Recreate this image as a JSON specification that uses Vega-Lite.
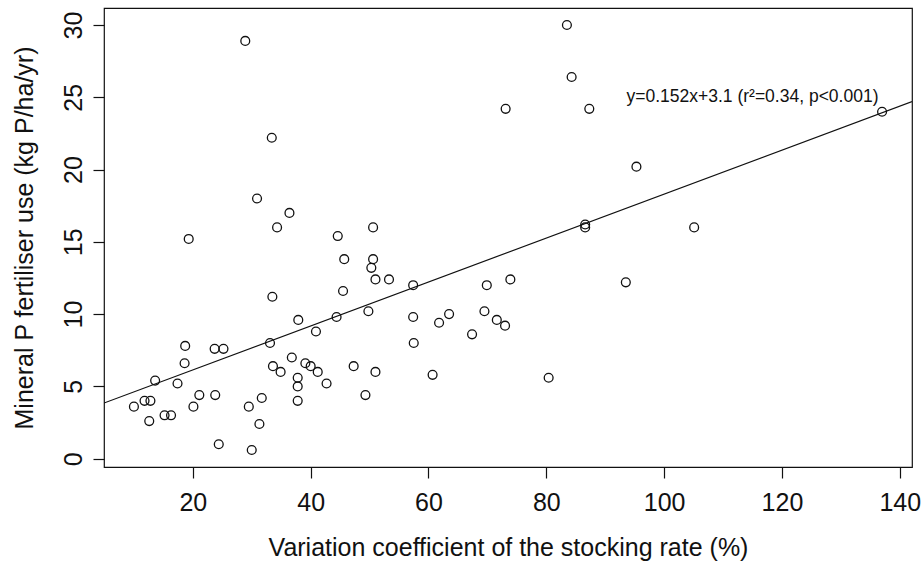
{
  "$schema": "https://vega.github.io/schema/vega-lite/v6.json",
  "autosize": {"type": "none"},
  "padding": {"left": 104, "top": 8, "right": 12, "bottom": 95},
  "width": 808,
  "height": 459,
  "background": "white",
  "config": {
    "view": {"stroke": "#111", "strokeWidth": 1.2},
    "font": "Liberation Sans"
  },
  "datasets": {
    "pts": [
      {"cv": 28.9, "p": 28.9}, {"cv": 33.4, "p": 22.2}, {"cv": 30.9, "p": 18.0}, {"cv": 36.4, "p": 17.0},
      {"cv": 34.3, "p": 16.0}, {"cv": 50.6, "p": 16.0}, {"cv": 44.6, "p": 15.4}, {"cv": 19.3, "p": 15.2},
      {"cv": 45.7, "p": 13.8}, {"cv": 50.6, "p": 13.8}, {"cv": 50.3, "p": 13.2}, {"cv": 51.0, "p": 12.4},
      {"cv": 53.3, "p": 12.4}, {"cv": 45.5, "p": 11.6}, {"cv": 33.5, "p": 11.2}, {"cv": 49.8, "p": 10.2},
      {"cv": 37.9, "p": 9.6}, {"cv": 44.4, "p": 9.8}, {"cv": 40.9, "p": 8.8}, {"cv": 33.1, "p": 8.0},
      {"cv": 18.7, "p": 7.8}, {"cv": 23.7, "p": 7.6}, {"cv": 25.2, "p": 7.6}, {"cv": 36.8, "p": 7.0},
      {"cv": 18.6, "p": 6.6}, {"cv": 33.6, "p": 6.4}, {"cv": 39.1, "p": 6.6}, {"cv": 40.0, "p": 6.4},
      {"cv": 47.3, "p": 6.4}, {"cv": 34.9, "p": 6.0}, {"cv": 41.2, "p": 6.0}, {"cv": 51.0, "p": 6.0},
      {"cv": 37.8, "p": 5.6}, {"cv": 13.6, "p": 5.4}, {"cv": 17.4, "p": 5.2}, {"cv": 42.7, "p": 5.2},
      {"cv": 37.8, "p": 5.0}, {"cv": 21.1, "p": 4.4}, {"cv": 23.8, "p": 4.4}, {"cv": 49.3, "p": 4.4},
      {"cv": 11.8, "p": 4.0}, {"cv": 12.8, "p": 4.0}, {"cv": 37.8, "p": 4.0}, {"cv": 31.7, "p": 4.2},
      {"cv": 10.0, "p": 3.6}, {"cv": 20.1, "p": 3.6}, {"cv": 29.5, "p": 3.6}, {"cv": 15.2, "p": 3.0},
      {"cv": 16.3, "p": 3.0}, {"cv": 12.6, "p": 2.6}, {"cv": 31.3, "p": 2.4}, {"cv": 24.4, "p": 1.0},
      {"cv": 30.0, "p": 0.6}, {"cv": 83.5, "p": 30.0}, {"cv": 84.3, "p": 26.4}, {"cv": 73.1, "p": 24.2},
      {"cv": 87.3, "p": 24.2}, {"cv": 95.3, "p": 20.2}, {"cv": 86.6, "p": 16.2}, {"cv": 86.6, "p": 16.0},
      {"cv": 57.4, "p": 12.0}, {"cv": 69.9, "p": 12.0}, {"cv": 73.9, "p": 12.4}, {"cv": 93.5, "p": 12.2},
      {"cv": 57.4, "p": 9.8}, {"cv": 63.5, "p": 10.0}, {"cv": 61.8, "p": 9.4}, {"cv": 69.5, "p": 10.2},
      {"cv": 71.6, "p": 9.6}, {"cv": 73.0, "p": 9.2}, {"cv": 67.4, "p": 8.6}, {"cv": 57.5, "p": 8.0},
      {"cv": 60.7, "p": 5.8}, {"cv": 80.4, "p": 5.6}, {"cv": 137.0, "p": 24.0}, {"cv": 105.1, "p": 16.0}
    ],
    "fit": [
      {"cv": 4.92, "p": 3.848},
      {"cv": 142.08, "p": 24.696}
    ],
    "note": [
      {"cv": 115, "p": 25, "label": "y=0.152x+3.1 (r²=0.34, p<0.001)"}
    ]
  },
  "encoding": {
    "x": {
      "field": "cv", "type": "quantitative",
      "scale": {"domain": [4.92, 142.08], "nice": false, "zero": false},
      "axis": {
        "title": "Variation coefficient of the stocking rate (%)",
        "values": [20, 40, 60, 80, 100, 120, 140],
        "grid": false, "domain": false,
        "tickSize": 11, "tickColor": "#111", "tickWidth": 1.2,
        "labelFont": "Liberation Sans", "labelFontSize": 25, "labelColor": "#111",
        "labelPadding": 32, "labelBaseline": "alphabetic", "labelFlush": false, "labelOverlap": false,
        "titleFont": "Liberation Sans", "titleFontSize": 25, "titleFontWeight": "normal", "titleColor": "#111",
        "titleX": 404, "titleY": 88, "titleBaseline": "alphabetic", "titleAlign": "center"
      }
    },
    "y": {
      "field": "p", "type": "quantitative",
      "scale": {"domain": [-0.576, 31.176], "nice": false, "zero": false},
      "axis": {
        "title": "Mineral P fertiliser use (kg P/ha/yr)",
        "values": [0, 5, 10, 15, 20, 25, 30],
        "grid": false, "domain": false,
        "tickSize": 11, "tickColor": "#111", "tickWidth": 1.2,
        "labelFont": "Liberation Sans", "labelFontSize": 25, "labelColor": "#111",
        "labelAngle": -90, "labelAlign": "center", "labelBaseline": "alphabetic",
        "labelPadding": 12, "labelFlush": false, "labelOverlap": false,
        "titleFont": "Liberation Sans", "titleFontSize": 25, "titleFontWeight": "normal", "titleColor": "#111",
        "titleAngle": -90, "titleX": -72, "titleY": 229.5, "titleBaseline": "alphabetic", "titleAlign": "center"
      }
    }
  },
  "layer": [
    {
      "data": {"name": "pts"},
      "mark": {"type": "point", "shape": "circle", "filled": false, "size": 78, "stroke": "#111", "strokeWidth": 1.3, "opacity": 1}
    },
    {
      "data": {"name": "fit"},
      "mark": {"type": "line", "color": "#111", "strokeWidth": 1.2, "clip": true}
    },
    {
      "data": {"name": "note"},
      "mark": {"type": "text", "font": "Liberation Sans", "fontSize": 17.5, "color": "#111", "align": "center", "baseline": "middle"},
      "encoding": {"text": {"field": "label", "type": "nominal"}}
    }
  ]
}
